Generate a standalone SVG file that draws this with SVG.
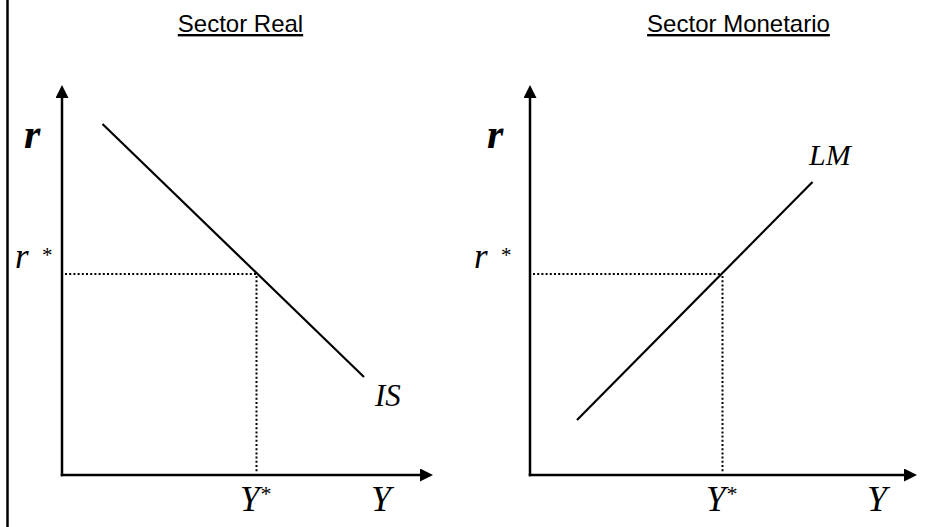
<svg xmlns="http://www.w3.org/2000/svg" width="951" height="527" viewBox="0 0 951 527">
  <style>
    .title { font-family: "Liberation Sans", Arial, sans-serif; font-size: 24px; text-anchor: middle; text-decoration: underline; fill: #000; }
    .axis { stroke: #000; stroke-width: 2.5; fill: none; stroke-linecap: square; }
    .curve { stroke: #000; stroke-width: 2.2; fill: none; }
    .dot { stroke: #000; stroke-width: 2; fill: none; stroke-dasharray: 2 2.2; }
    .lab { font-family: "Liberation Serif", "Times New Roman", serif; font-style: italic; fill: #000; }
    .rbig { font-family: "Liberation Serif", "Times New Roman", serif; font-style: italic; font-weight: bold; font-size: 42px; fill: #000; }
  </style>
  <defs>
    <marker id="arr" viewBox="0 0 13 13" refX="0" refY="6.5" markerWidth="13" markerHeight="13" orient="auto" markerUnits="userSpaceOnUse">
      <path d="M0,0 L13,6.5 L0,13 z" fill="#000"/>
    </marker>
  </defs>
  <rect width="951" height="527" fill="#fff"/>
  <line id="border" x1="7.5" y1="0" x2="7.5" y2="527" stroke="#000" stroke-width="2.5"/>

  <g id="sector-real">
    <text id="title-real" class="title" x="240.5" y="32">Sector Real</text>
    <text id="r-left" class="rbig" x="24" y="148">r</text>
    <text id="rstar-left" class="lab" x="15" y="268" font-size="35">r <tspan x="41" font-size="21" dy="-6">*</tspan></text>
    <text id="ystar-left" class="lab" x="240" y="511" font-size="35">Y<tspan font-size="22" dy="-10">*</tspan></text>
    <text id="y-left" class="lab" x="371" y="511" font-size="36">Y</text>
    <text id="is-label" class="lab" x="375" y="406" font-size="31">IS</text>
  </g>

  <g id="sector-monetario">
    <text id="title-mon" class="title" x="738.5" y="32">Sector Monetario</text>
    <text id="r-right" class="rbig" x="487" y="148">r</text>
    <text id="rstar-right" class="lab" x="474" y="268" font-size="35">r <tspan x="500" font-size="21" dy="-6">*</tspan></text>
    <text id="ystar-right" class="lab" x="706" y="511" font-size="35">Y<tspan font-size="22" dy="-10">*</tspan></text>
    <text id="y-right" class="lab" x="867" y="511" font-size="36">Y</text>
    <text id="lm-label" class="lab" x="809" y="165" font-size="30">LM</text>
  </g>

  <g id="connectors">
    <line class="axis" x1="62" y1="475" x2="62" y2="98" marker-end="url(#arr)"/>
    <line class="axis" x1="62" y1="475" x2="420" y2="475" marker-end="url(#arr)"/>
    <line class="axis" x1="530" y1="475" x2="530" y2="98" marker-end="url(#arr)"/>
    <line class="axis" x1="530" y1="475" x2="904" y2="475" marker-end="url(#arr)"/>
    <line id="is-curve" class="curve" x1="102.5" y1="124" x2="364" y2="377"/>
    <line id="lm-curve" class="curve" x1="577" y1="420" x2="812.5" y2="182"/>
    <line class="dot" x1="65" y1="274" x2="256" y2="274"/>
    <line class="dot" x1="256.5" y1="276" x2="256.5" y2="473"/>
    <line class="dot" x1="533" y1="274" x2="722" y2="274"/>
    <line class="dot" x1="722.5" y1="276" x2="722.5" y2="473"/>
  </g>
</svg>
